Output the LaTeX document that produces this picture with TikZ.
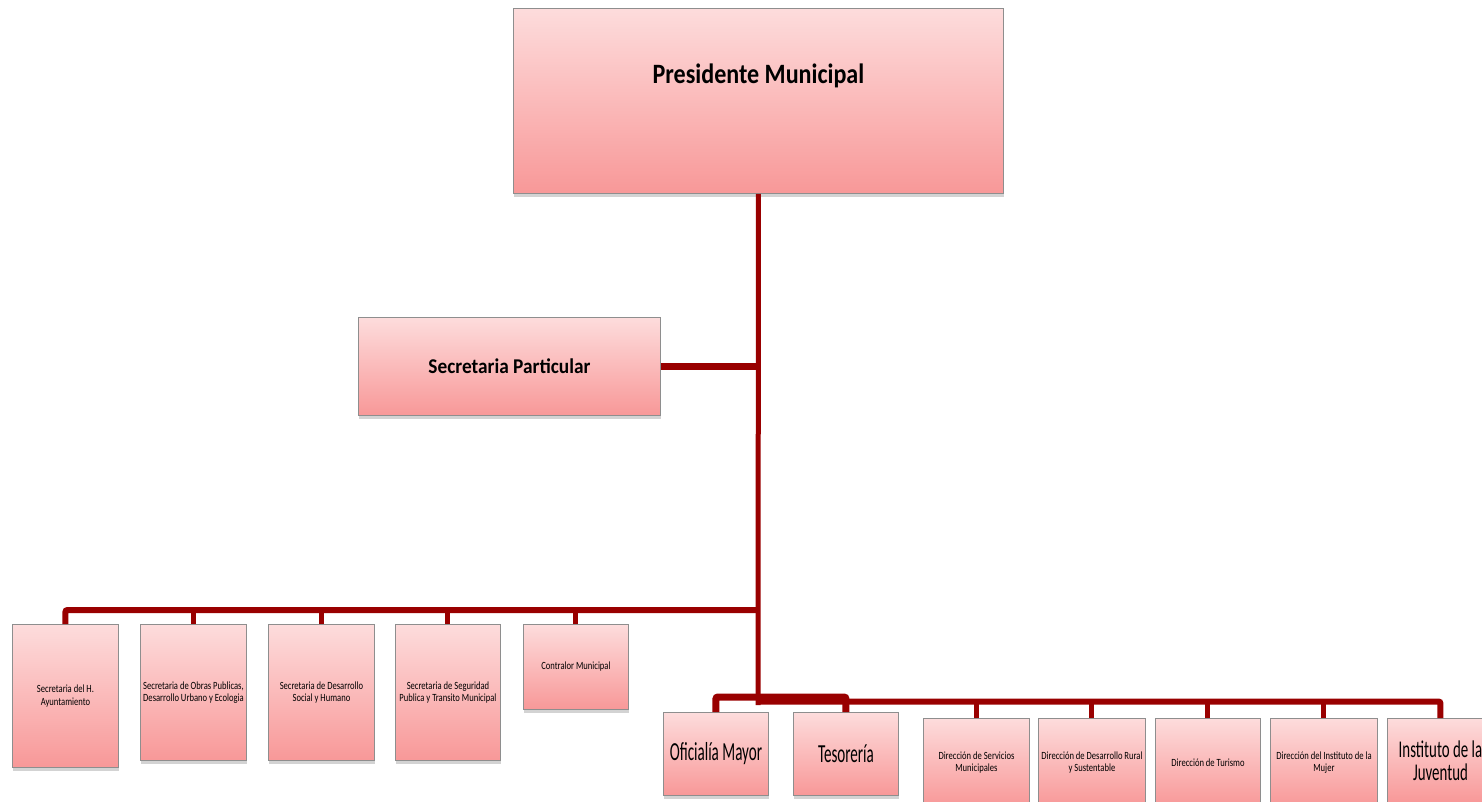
\documentclass[tikz,border=0pt]{standalone}
\usepackage{fontspec}
\setmainfont{Carlito}
\newfontfamily\fpres[FakeStretch=0.86]{Carlito}
\newfontfamily\fsecp[FakeStretch=0.92]{Carlito}
\newfontfamily\fbig[FakeStretch=0.58]{Carlito}
\newfontfamily\fjuv[FakeStretch=0.62]{Carlito}
\newfontfamily\fsm[FakeStretch=0.78]{Carlito}
\usetikzlibrary{shadows}
\definecolor{boxtop}{HTML}{FDDCDC}
\definecolor{boxbot}{HTML}{F89898}
\definecolor{boxline}{HTML}{8E8E8E}
\definecolor{connred}{HTML}{990000}
\tikzset{
  orgbox/.style={draw=boxline, line width=0.9pt, top color=boxtop, bottom color=boxbot,
    drop shadow={shadow xshift=1pt, shadow yshift=-4pt, opacity=0.35},
    anchor=north west, align=center, inner sep=1pt, text=black},
  smallbox/.style={orgbox, font=\fsm\fontsize{11}{12.5}\selectfont},
  bigbox/.style={orgbox, font=\fbig\fontsize{26}{26}\selectfont},
  juvbox/.style={orgbox, font=\fjuv\fontsize{24}{23}\selectfont},
  conn/.style={draw=connred, line width=5pt},
  bus/.style={draw=connred, line width=6pt, rounded corners=2pt},
}
\begin{document}
\begin{tikzpicture}[x=1pt,y=-1pt]
\useasboundingbox (0,0) rectangle (1482,802);
\clip (0,0) rectangle (1482,802);
% top
\node[orgbox, minimum width=490pt, minimum height=185pt, font=\fpres\bfseries\fontsize{28}{30}\selectfont] (pres) at (513,8) {\raisebox{17pt}[0pt][0pt]{Presidente Municipal}};
\node[orgbox, minimum width=302pt, minimum height=98pt, font=\fsecp\bfseries\fontsize{21}{23}\selectfont] (sp) at (358,317) {Secretaria Particular};
% left row
\node[smallbox, minimum width=106pt, minimum height=143pt] (l1) at (12,624) {Secretaria del H.\\Ayuntamiento};
\node[smallbox, minimum width=106pt, minimum height=136pt] (l2) at (140,624) {Secretaria de Obras Publicas,\\Desarrollo Urbano y Ecologia};
\node[smallbox, minimum width=106pt, minimum height=136pt] (l3) at (268,624) {Secretaria de Desarrollo\\Social y Humano};
\node[smallbox, minimum width=105pt, minimum height=136pt] (l4) at (395,624) {Secretaria de Seguridad\\Publica y Transito Municipal};
\node[smallbox, minimum width=105pt, minimum height=85pt] (l5) at (523,624) {Contralor Municipal};
% right row
\node[bigbox, minimum width=105pt, minimum height=83pt] (ofi) at (663,712) {Oficialía Mayor};
\node[bigbox, minimum width=105pt, minimum height=83pt] (tes) at (793,712) {Tesorería};
\node[smallbox, minimum width=106pt, minimum height=88pt] (r1) at (923,718) {Dirección de Servicios\\Municipales};
\node[smallbox, minimum width=107pt, minimum height=88pt] (r2) at (1038,718) {Dirección de Desarrollo Rural\\y Sustentable};
\node[smallbox, minimum width=105pt, minimum height=88pt] (r3) at (1155,718) {Dirección de Turismo};
\node[smallbox, minimum width=107pt, minimum height=88pt] (r4) at (1270,718) {Dirección del Instituto de la\\Mujer};
\node[juvbox, minimum width=106pt, minimum height=84pt] (r5) at (1387,718) {Instituto de la\\Juventud};
% junction coordinates
\coordinate (spj) at (sp.east -| pres.south);
\coordinate (lb) at (758,610);
\coordinate (ob) at (758,697);
\coordinate (rb) at (758,701.5);
\coordinate (bottom) at (758,705);
% connectors
\draw[conn] (pres.south) -- (bottom);
\draw[conn, line width=7pt] (sp.east) -- (spj);
\draw[bus] (l1.north) -- (l1.north |- lb) -- (lb);
\foreach \n in {l2,l3,l4,l5} \draw[conn] (\n.north) -- (\n.north |- lb);
\draw[bus, line width=7pt] (ofi.north) -- (ofi.north |- ob) -- (tes.north |- ob) -- (tes.north);
\draw[bus] (rb) -- (r5.north |- rb) -- (r5.north);
\foreach \n in {r1,r2,r3,r4} \draw[conn] (\n.north) -- (\n.north |- rb);
\end{tikzpicture}
\end{document}
